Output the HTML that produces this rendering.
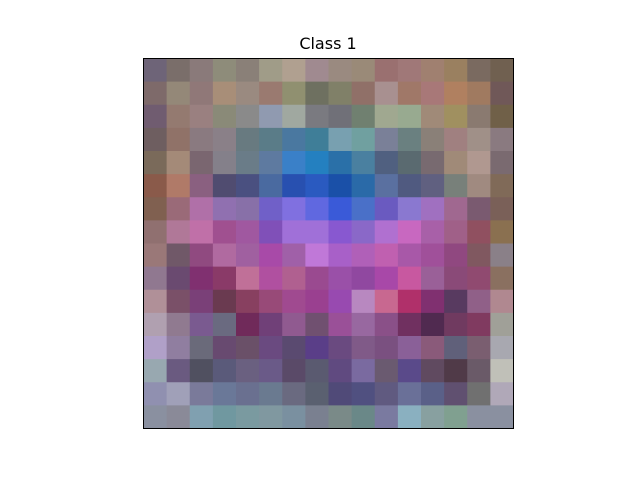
<!DOCTYPE html>
<html><head><meta charset="utf-8"><style>
html,body{margin:0;padding:0;background:#fff;width:640px;height:480px;overflow:hidden}
svg{display:block}
</style></head><body>
<svg id="chart" width="640" height="480">
<text x="328" y="49" text-anchor="middle" font-family="DejaVu Sans, Liberation Sans, sans-serif" font-size="16" fill="#000">Class 1</text>
<g id="cells"></g>
<rect x="143.5" y="58.5" width="370" height="370" fill="none" stroke="#000" stroke-width="1"/>
</svg>
<script>
const rowsTop = [
["#6e6478","#7a6e6a","#8a7a7a","#8e8c7a","#8a8078","#a09c88","#b0a090","#a08a90","#9a8a80","#9a8a78","#9a7070","#a07878","#a08070","#9a8060","#7a6a60","#706050"],
["#7e6a6a","#948878","#907878","#a88e78","#9a8a80","#9a7a70","#909070","#6e7060","#808068","#907068","#a89090","#a07868","#a87878","#b08060","#a07a60","#705858"],
["#705c70","#947a70","#9a8080","#8a8a78","#8a8a8a","#909ab0","#a0a8a0","#7a7a80","#707078","#708070","#a0a890","#98aa90","#a08a78","#a09060","#8a7a70","#706048"],
["#6e5e60","#907268","#8a7a80","#8a8088","#687a80","#5a7c88","#4a78a0","#3f7e98","#78a0b0","#70a0a0","#7a8098","#6a8080","#8a8078","#a08080","#a09088","#8a7a80"],
["#7a6a5a","#a48a78","#7a6670","#84808a","#6a7c88","#5e7aa0","#3a80c8","#2480c0","#2a70a8","#4a80a0","#506080","#5a6a70","#786a70","#a08a78","#b09890","#7a6a70"],
["#8a5a4a","#b07a68","#8a6080","#504c70","#4a5080","#4a6aa0","#2850b0","#2a5ac0","#1a50a8","#2a6aa8","#5a70a0","#505a80","#606080","#78807a","#a08a80","#806a58"],
["#806050","#9a6a78","#b070a8","#9070b0","#8870a8","#7060c8","#8070e0","#6068e0","#3a5ad8","#4a70c8","#6a5ac0","#8a78d0","#a070c0","#a06890","#7a5a70","#7a6058"],
["#907070","#b07898","#c070a8","#a05090","#a058a0","#8050b8","#a070d8","#a070d8","#8858d0","#8a68c8","#b070d0","#c868c0","#a860a8","#a06088","#905060","#8a7050"]
];
const rowsBottom = [
["#9a7878","#705868","#904a80","#b06aa0","#a060a0","#a84aa8","#a060a8","#c078d8","#a860c8","#b060b8","#c060b0","#a858a8","#a0509a","#904880","#805860","#8a8088"],
["#907890","#6a4a70","#803070","#8a3a68","#c07098","#b050a0","#b06090","#9a4a90","#9a50a8","#9048a0","#a848a8","#c858a0","#9a6098","#8a4a78","#904a70","#8a7060"],
["#b09098","#7a5068","#7a4078","#6a3a50","#884060","#984a78","#a04a90","#9a4090","#984ab0","#b888c0","#c86890","#b0306a","#803070","#583a60","#906088","#b08890"],
["#b0a0b0","#907a90","#7a5a90","#6a6a80","#702a5a","#704078","#905a90","#705070","#9a5098","#9868a0","#8a5088","#703060","#502a50","#703a60","#803a60","#a0a098"],
["#b0a0c8","#907ea0","#6a6a7a","#684a70","#6a5068","#6a4a80","#5a4a70","#5a3e88","#6a4a80","#805a88","#7a5080","#8a6098","#8a5a7a","#60607a","#7a5e70","#a8a8b0"],
["#98a8b0","#6a5a80","#505060","#5a5a7a","#6a6080","#6a5a88","#5a4a68","#5a5a70","#604a80","#7a6aa0","#6a5a70","#5a4a8a","#604a60","#503a48","#6a5a68","#c0c0b8"],
["#9090b0","#a0a0b8","#7a7a9a","#6a7898","#6a7090","#6a7a90","#6a6a80","#5a6070","#504a78","#505080","#605a80","#6a7098","#5a6088","#605070","#707070","#b0a8b8"],
["#8a90a0","#8a8a98","#80a0b0","#7098a0","#7a9aa0","#8098a0","#7a90a0","#7a8090","#7a8a88","#6a8888","#7a7aa0","#8ab0c0","#88a0a0","#80a090","#8a90a0","#8a90a0"]
];
const pixelRows = rowsTop.concat(rowsBottom);
const x0 = 143.5, y0 = 58.5, size = 370;
const g = document.getElementById('cells');
const nR = pixelRows.length;
pixelRows.forEach((row, r) => {
  const nC = row.length;
  row.forEach((c, k) => {
    const rect = document.createElementNS('http://www.w3.org/2000/svg', 'rect');
    const cw = size / nC, ch = size / nR;
    rect.setAttribute('x', x0 + k * cw);
    rect.setAttribute('y', y0 + r * ch);
    rect.setAttribute('width', cw + 0.5);
    rect.setAttribute('height', ch + 0.5);
    rect.setAttribute('fill', c);
    
    
    g.appendChild(rect);
  });
});
</script>
</body></html>
